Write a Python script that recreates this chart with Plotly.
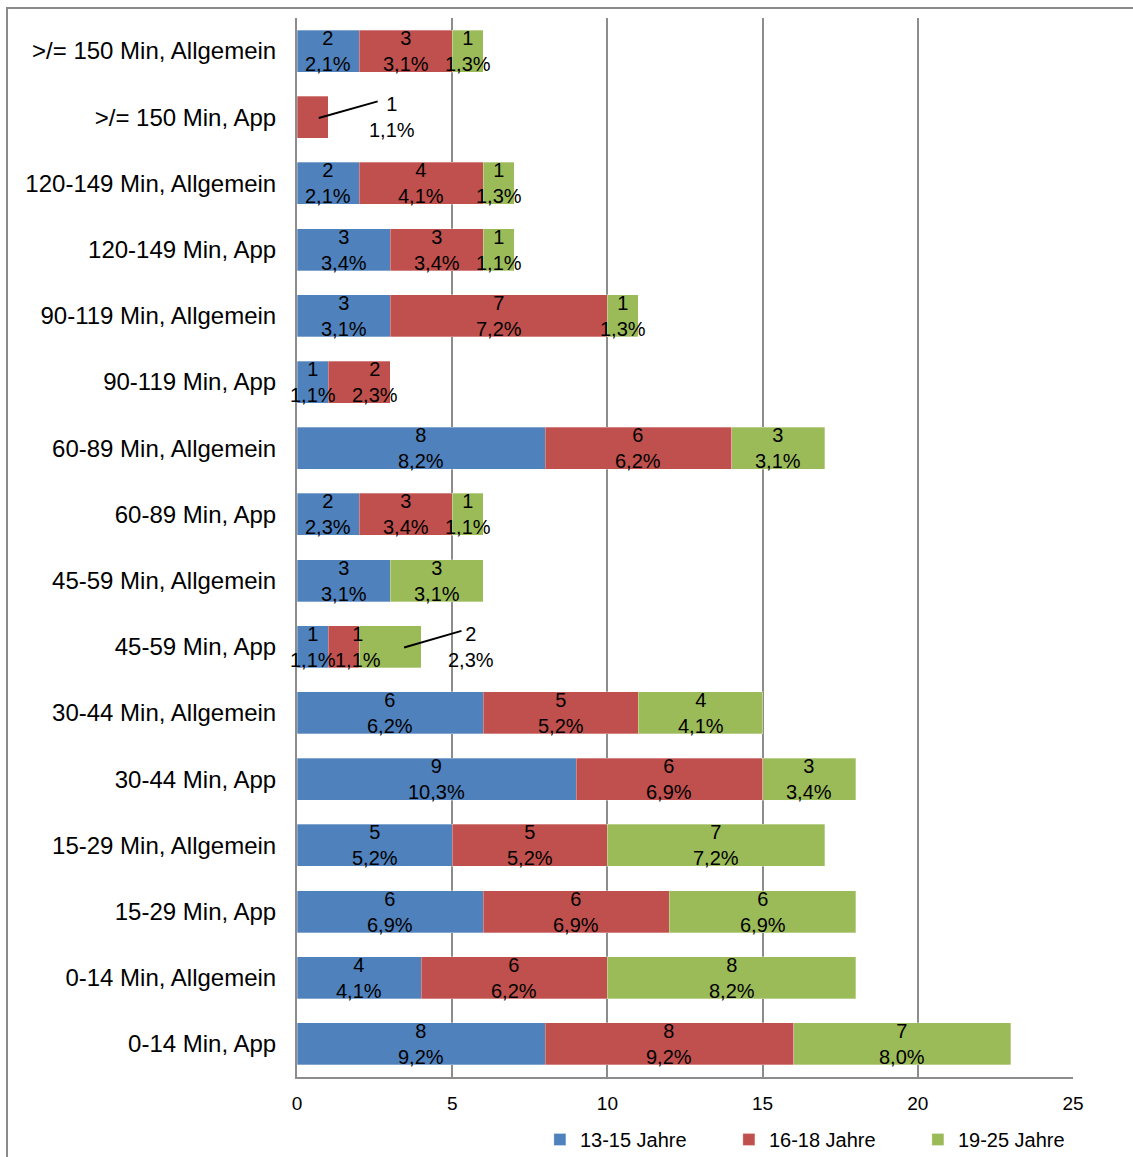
import plotly.graph_objects as go

# Categories, top to bottom
categories = [
    ">/= 150 Min, Allgemein", ">/= 150 Min, App",
    "120-149 Min, Allgemein", "120-149 Min, App",
    "90-119 Min, Allgemein", "90-119 Min, App",
    "60-89 Min, Allgemein", "60-89 Min, App",
    "45-59 Min, Allgemein", "45-59 Min, App",
    "30-44 Min, Allgemein", "30-44 Min, App",
    "15-29 Min, Allgemein", "15-29 Min, App",
    "0-14 Min, Allgemein", "0-14 Min, App",
]

series_names = ["13-15 Jahre", "16-18 Jahre", "19-25 Jahre"]

counts_13_15 = [2, None, 2, 3, 3, 1, 8, 2, 3, 1, 6, 9, 5, 6, 4, 8]
counts_16_18 = [3, 1, 4, 3, 7, 2, 6, 3, None, 1, 5, 6, 5, 6, 6, 8]
counts_19_25 = [1, None, 1, 1, 1, None, 3, 1, 3, 2, 4, 3, 7, 6, 8, 7]

pct_13_15 = ["2,1%", None, "2,1%", "3,4%", "3,1%", "1,1%", "8,2%", "2,3%",
             "3,1%", "1,1%", "6,2%", "10,3%", "5,2%", "6,9%", "4,1%", "9,2%"]
pct_16_18 = ["3,1%", "1,1%", "4,1%", "3,4%", "7,2%", "2,3%", "6,2%", "3,4%",
             None, "1,1%", "5,2%", "6,9%", "5,2%", "6,9%", "6,2%", "9,2%"]
pct_19_25 = ["1,3%", None, "1,3%", "1,1%", "1,3%", None, "3,1%", "1,1%",
             "3,1%", "2,3%", "4,1%", "3,4%", "7,2%", "6,9%", "8,2%", "8,0%"]

colors = ["#4F81BD", "#C0504D", "#9BBB59"]

# Labels drawn outside their segment with a leader line: (category, series, label dx, line start dx, line end dx)
outside_labels = [
    (">/= 150 Min, App", 1, 2.07, 0.2, 1.6),
    ("45-59 Min, App", 2, 1.6, 0.45, 1.3),
]
# Inside labels nudged sideways to reduce crowding: (category, series, dx)
nudged_labels = [
    ("90-119 Min, App", 1, 0.5),
    ("45-59 Min, App", 1, 0.45),
]

values = [counts_13_15, counts_16_18, counts_19_25]
pcts = [pct_13_15, pct_16_18, pct_19_25]

n = len(categories)
ypos = [n - 1 - i for i in range(n)]  # top category drawn highest
BAR_W = 0.635
FONT = "Liberation Sans, Arial, sans-serif"

fig = go.Figure()
for name, vals, col in zip(series_names, values, colors):
    fig.add_trace(go.Bar(
        y=ypos, x=vals, name=name, orientation="h", width=BAR_W,
        marker=dict(color=col, line=dict(color="rgba(255,255,255,0.6)", width=0.5)),
        hoverinfo="skip",
    ))

annotations = []
shapes = []
outside = {(c, s): (dl, l0, l1) for c, s, dl, l0, l1 in outside_labels}
nudge = {(c, s): dx for c, s, dx in nudged_labels}
for i, cat in enumerate(categories):
    base = 0.0
    for s in range(3):
        v = values[s][i]
        if v is None:
            continue
        txt = f"{v}<br>{pcts[s][i]}"
        key = (cat, s)
        if key in outside:
            dl, l0, l1 = outside[key]
            mid = base + v / 2
            annotations.append(dict(x=base + v + dl, y=ypos[i], xref="x", yref="y",
                                    text=txt, showarrow=False,
                                    font=dict(size=20, color="black", family=FONT)))
            shapes.append(dict(type="line", xref="x", yref="y",
                               x0=mid + l0, y0=ypos[i] - 0.01,
                               x1=base + v + l1, y1=ypos[i] + 0.24,
                               line=dict(color="black", width=2)))
        else:
            annotations.append(dict(x=base + v / 2 + nudge.get(key, 0.0), y=ypos[i],
                                    xref="x", yref="y", text=txt, showarrow=False,
                                    font=dict(size=20, color="black", family=FONT)))
        base += v

# Outer chart frame
shapes.append(dict(type="rect", xref="paper", yref="paper",
                   x0=-0.3737, x1=1.09, y0=-0.12, y1=1.0094,
                   line=dict(color="#8A8A8A", width=2), layer="below"))

fig.update_layout(
    width=1133, height=1157,
    margin=dict(l=297, r=60, t=18, b=80, autoexpand=False),
    barmode="stack",
    plot_bgcolor="white", paper_bgcolor="white",
    font=dict(family=FONT, color="black"),
    showlegend=True,
    legend=dict(orientation="h", x=0.313, xanchor="left",
                yref="container", y=0.032, yanchor="top",
                font=dict(size=20, family=FONT), entrywidth=144, entrywidthmode="pixels",
                traceorder="normal"),
    annotations=annotations,
    shapes=shapes,
    xaxis=dict(range=[0, 25], dtick=5, tick0=0, showgrid=True, gridcolor="#8C8C8C",
               gridwidth=2, showline=True, linecolor="#8C8C8C", linewidth=2,
               zeroline=False, ticks="", tickfont=dict(size=19, family=FONT),
               ticklabelstandoff=8, fixedrange=True, mirror=False),
    yaxis=dict(range=[-0.5, n - 0.5], tickvals=ypos, ticktext=categories,
               showgrid=False, zeroline=False, showline=True, linecolor="#8C8C8C",
               linewidth=2, ticks="", ticklabelstandoff=14,
               tickfont=dict(size=24, family=FONT)),
    bargap=0.365,
)

fig.write_html("out.html")
